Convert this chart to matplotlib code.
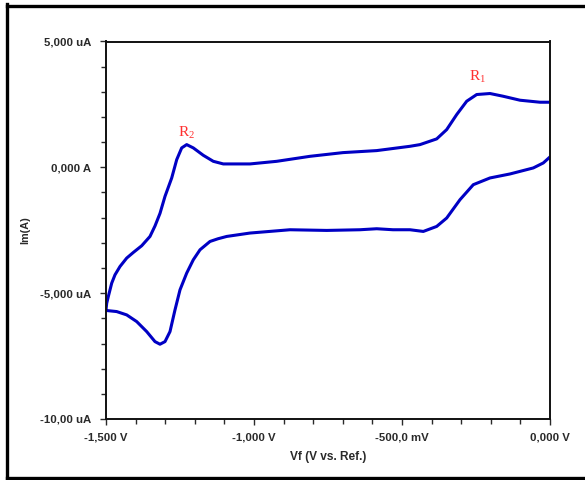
import matplotlib
matplotlib.use("Agg")
import matplotlib.pyplot as plt
from matplotlib.lines import Line2D
from matplotlib.ticker import MultipleLocator

# ---- data (V, uA) ----
upper_v = [-1.5, -1.4976, -1.4922, -1.4807, -1.4696, -1.4527, -1.4301, -1.4078, -1.3794,
           -1.3514, -1.3345, -1.3176, -1.3007, -1.2780, -1.2611, -1.2443, -1.2274, -1.2051,
           -1.1713, -1.1375, -1.1037, -1.0811, -1.0135, -0.9233, -0.8108, -0.6993, -0.5855,
           -0.473, -0.4392, -0.3828, -0.3490, -0.3152, -0.2814, -0.2476, -0.2027, -0.1588,
           -0.1014, -0.0338, 0.0]
upper_i = [-5664, -5400, -5134, -4601, -4271, -3940, -3606, -3383, -3116,
           -2746, -2330, -1830, -1154, -422, 306, 772, 903, 772,
           478, 239, 135, 135, 135, 239, 438, 585, 665,
           836, 903, 1130, 1500, 2097, 2627, 2893, 2933, 2826,
           2667, 2587, 2587]

lower_v = [-1.5, -1.4976, -1.4639, -1.4301, -1.3963, -1.3625, -1.3345, -1.3176, -1.3007,
           -1.2838, -1.2669, -1.25, -1.2274, -1.2051, -1.1824, -1.1486, -1.1216, -1.0922,
           -1.0135, -0.8784, -0.7544, -0.6419, -0.5855, -0.5304, -0.473, -0.4280, -0.3828,
           -0.3490, -0.3041, -0.2591, -0.2027, -0.1351, -0.0564, -0.0226, 0.0]
lower_i = [-5664, -5690, -5731, -5863, -6129, -6527, -6925, -7029, -6925,
           -6527, -5664, -4868, -4203, -3674, -3276, -2945, -2838, -2746,
           -2611, -2480, -2507, -2480, -2440, -2480, -2480, -2547, -2348,
           -2014, -1286, -689, -422, -263, -24, 175, 414]

x_ticks = [-1.5, -1.0, -0.5, 0.0]
x_tick_labels = ["-1,500 V", "-1,000 V", "-500,0 mV", "0,000 V"]
y_ticks = [5000, 0, -5000, -10000]
y_tick_labels = ["5,000 uA", "0,000 A", "-5,000 uA", "-10,00 uA"]

peak_labels = [r"$\mathregular{R_1}$", r"$\mathregular{R_2}$"]
peak_pos = [(-0.245, 3280), (-1.228, 1050)]

plt.rcParams["font.family"] = ["Liberation Sans", "DejaVu Sans"]

fig = plt.figure(figsize=(5.85, 4.8), dpi=100)
ax = fig.add_axes([106 / 585, 1 - 419 / 480, (550 - 106) / 585, (419 - 41.5) / 480])

line_color = "#0000c4"
ax.plot(upper_v, upper_i, color=line_color, lw=2.2, solid_capstyle="round", solid_joinstyle="round")
ax.plot(lower_v, lower_i, color=line_color, lw=2.2, solid_capstyle="round", solid_joinstyle="round")

ax.set_xlim(-1.5, 0.0)
ax.set_ylim(-10000, 5000)

ax.set_xticks(x_ticks)
ax.set_xticklabels(x_tick_labels)
ax.set_yticks(y_ticks)
ax.set_yticklabels(y_tick_labels)
ax.xaxis.set_minor_locator(MultipleLocator(0.1))
ax.yaxis.set_minor_locator(MultipleLocator(1000))

ax.tick_params(axis="both", which="major", direction="out", length=4.5, width=1.0,
               labelsize=8.2, colors="#2a2a2a", pad=5)
ax.tick_params(axis="both", which="minor", direction="out", length=3.5, width=1.0, colors="#2a2a2a")
ax.tick_params(axis="y", which="major", length=4.5, pad=6)
for lbl in ax.get_xticklabels() + ax.get_yticklabels():
    lbl.set_fontweight("bold")

for sp in ax.spines.values():
    sp.set_linewidth(1.4)
    sp.set_color("#111111")

ax.set_xlabel("Vf (V vs. Ref.)", fontsize=8.6, fontweight="bold", color="#2a2a2a", labelpad=6)
ax.set_ylabel("Im(A)", fontsize=7.8, fontweight="bold", color="#2a2a2a", labelpad=7.5)

for lab, (px, py) in zip(peak_labels, peak_pos):
    ax.text(px, py, lab, color="#ff3030", fontsize=11, family=["Liberation Serif", "DejaVu Serif"],
            ha="center", va="bottom")

# outer frame
fig.add_artist(Line2D([6.5 / 585, 6.5 / 585], [1 - 4 / 480, 1 - 479 / 480], color="black", lw=2.4,
                      transform=fig.transFigure, solid_capstyle="projecting"))
fig.add_artist(Line2D([6.5 / 585, 1.0], [1 - 5.5 / 480, 1 - 5.5 / 480], color="black", lw=2.4,
                      transform=fig.transFigure, solid_capstyle="projecting"))
fig.add_artist(Line2D([6.5 / 585, 1.0], [1 - 478 / 480, 1 - 478 / 480], color="black", lw=2.4,
                      transform=fig.transFigure, solid_capstyle="projecting"))

fig.savefig("out.png", dpi=100)
